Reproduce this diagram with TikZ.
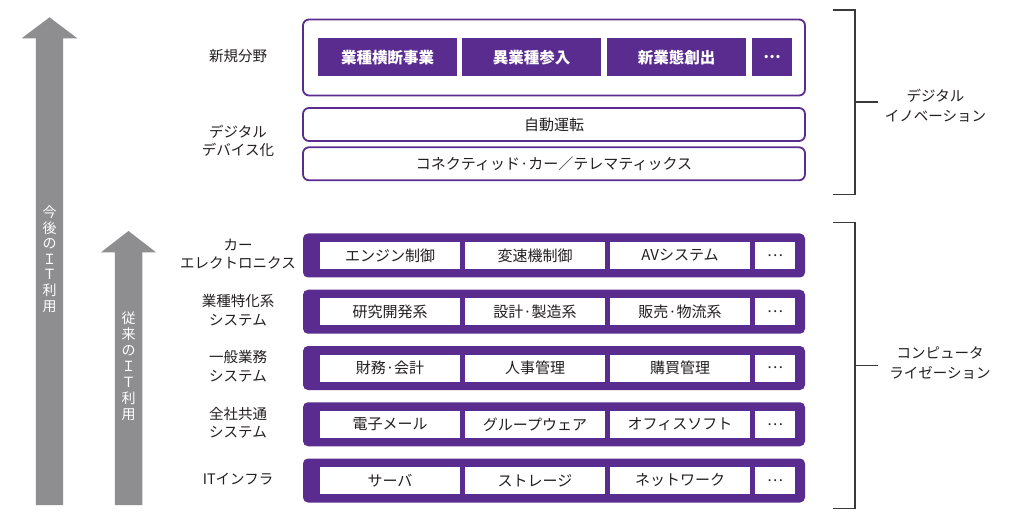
\documentclass[tikz,border=0pt]{standalone}
\usepackage{fontspec}
\setmainfont{Noto Sans CJK JP}
\definecolor{purp}{HTML}{5B2C8F}
\definecolor{arrowgrey}{HTML}{8E8E90}
\definecolor{txt}{HTML}{231F20}
\definecolor{brk}{HTML}{3A3A3A}
\begin{document}
\begin{tikzpicture}[x=1pt,y=-1pt,
  every node/.style={inner sep=0pt, outer sep=0pt, text=txt},
  lbl/.style={align=center, font=\fontsize{14.5}{18.5}\selectfont},
  rlbl/.style={align=center, font=\fontsize{14.5}{20}\selectfont},
  vtxt/.style={align=center, text=white, font=\fontsize{14}{15.6}\selectfont},
  topframe/.style={draw=purp, line width=1.8pt, rounded corners=6pt, fill=white, minimum width=502pt},
  newcell/.style={fill=purp, text=white, font=\fontsize{15.5}{18}\selectfont\bfseries, minimum height=38pt},
  rowbox/.style={fill=purp, rounded corners=5pt, minimum height=44pt, minimum width=502pt},
  cellbox/.style={fill=white, minimum height=27pt, font=\fontsize{15}{18}\selectfont},
  brace/.style={draw=brk, line width=1.1pt},
  bigarrow/.style={fill=arrowgrey}]
\useasboundingbox (0,0) rectangle (1030,518);
\fill[white] (0,0) rectangle (1030,518);

% arrows
\fill[bigarrow] (35.8,505) -- (35.8,38.3) -- (21.7,38.3) -- (49.5,17.3) -- (77.3,38.3) -- (63.2,38.3) -- (63.2,505) -- cycle;
\fill[bigarrow] (114.8,505) -- (114.8,252.3) -- (101,252.3) -- (128.5,231) -- (156,252.3) -- (142.3,252.3) -- (142.3,505) -- cycle;
\node[vtxt] (futureit) at (49.5,259) {今\\後\\の\\Ｉ\\Ｔ\\利\\用};
\node[vtxt, font=\fontsize{14}{16}\selectfont] (pastit) at (128.5,366) {従\\来\\の\\Ｉ\\Ｔ\\利\\用};

% top frame
\node[topframe, minimum height=76pt] (newbox) at (554,57.5) {};
\node[newcell, minimum width=139pt] (n1) at (387.5,57.5) {業種横断事業};
\node[newcell, minimum width=139pt] (n2) at (531.5,57.5) {異業種参入};
\node[newcell, minimum width=139pt] (n3) at (676.5,57.5) {新業態創出};
\node[newcell, minimum width=40pt] (n4) at (772,57.5) {…};
\node[lbl] (lnew) at (238,56.5) {新規分野};

\node[topframe, minimum height=33pt] (auto) at (554,124.5) {};
\node[cellbox] (autot) at (554,124.5) {自動運転};
\node[topframe, minimum height=33pt] (conn) at (554,163.8) {};
\node[cellbox] (connt) at (554,163.8) {コネクティッド·カー／テレマティックス};
\node[lbl] (ldig) at (238,141) {デジタル\\デバイス化};

% rows
\foreach \i/\y/\lab/\a/\b/\c in {
  1/255.5/{カー\\エレクトロニクス}/エンジン制御/変速機制御/AVシステム,
  2/311.75/{業種特化系\\システム}/研究開発系/設計·製造系/販売·物流系,
  3/368/{一般業務\\システム}/財務·会計/人事管理/購買管理,
  4/424.25/{全社共通\\システム}/電子メール/グループウェア/オフィスソフト,
  5/480.5/{ITインフラ}/サーバ/ストレージ/ネットワーク}{
  \node[rowbox] (row\i) at (554,\y) {};
  \node[cellbox, minimum width=140pt] (c\i a) at (390,\y) {\a};
  \node[cellbox, minimum width=140pt] (c\i b) at (535,\y) {\b};
  \node[cellbox, minimum width=140pt] (c\i c) at (680,\y) {\c};
  \node[cellbox, minimum width=40pt] (c\i d) at (775,\y) {…};
  \node[lbl] (lab\i) at (238,\y-1.5) {\lab};
}

% brackets
\coordinate (b1top) at (833,10);
\coordinate (b1bot) at (833,194.3);
\coordinate (b1mid) at (855,102);
\coordinate (b1tip) at (877.7,102);
\draw[brace] (b1top) -- ++(22,0) |- (b1bot);
\draw[brace] (b1mid) -- (b1tip);
\node[rlbl] (innov) at (935.5,106) {デジタル\\イノベーション};

\coordinate (b2top) at (833,222.3);
\coordinate (b2bot) at (833,508.3);
\coordinate (b2mid) at (855,365.3);
\coordinate (b2tip) at (877.7,365.3);
\draw[brace] (b2top) -- ++(22,0) |- (b2bot);
\draw[brace] (b2mid) -- (b2tip);
\node[rlbl] (compz) at (940,363) {コンピュータ\\ライゼーション};
\end{tikzpicture}
\end{document}
